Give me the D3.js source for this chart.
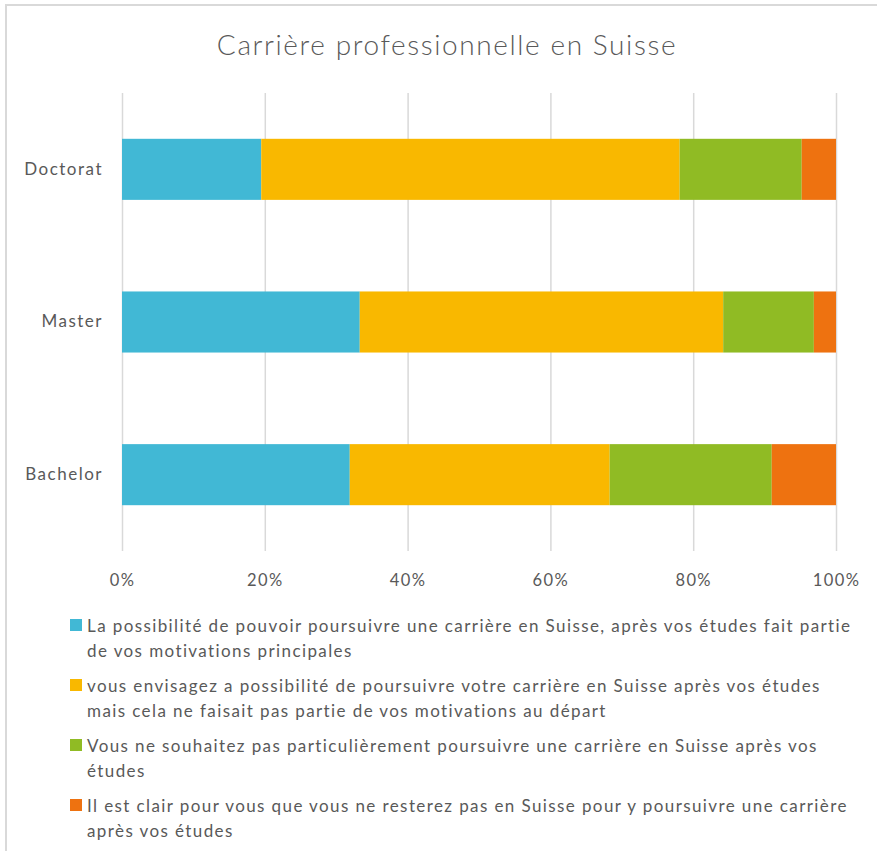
<!DOCTYPE html>
<html>
<head>
<meta charset="utf-8">
<script src="https://cdn.jsdelivr.net/npm/d3@7"></script>
<style>
  body { margin: 0; background: #fff; }
  svg { display: block; }
  text { font-family: Lato, "Open Sans", sans-serif; fill: #595959; }
</style>
</head>
<body>
<svg id="chart" width="877" height="851"></svg>
<script>
// Survey answers by degree level, in percent of respondents
const categories = ["Doctorat", "Master", "Bachelor"];
const motivationPrincipale = [19.5, 33.3, 31.9];
const envisageSansMotivation = [58.6, 50.9, 36.4];
const pasParticulierement = [17.1, 12.7, 22.7];
const neResteraPas = [4.8, 3.1, 9.0];

const seriesNames = [
  "La possibilité de pouvoir poursuivre une carrière en Suisse, après vos études fait partie de vos motivations principales",
  "vous envisagez a possibilité de poursuivre votre carrière en Suisse après vos études mais cela ne faisait pas partie de vos motivations au départ",
  "Vous ne souhaitez pas particulièrement poursuivre une carrière en Suisse après vos études",
  "Il est clair pour vous que vous ne resterez pas en Suisse pour y poursuivre une carrière après vos études"
];
const seriesColors = ["#41B8D5", "#F9B800", "#90BB24", "#EE7210"];
const tickValues = [0, 20, 40, 60, 80, 100];
const chartTitle = "Carrière professionnelle en Suisse";

const seriesValues = [motivationPrincipale, envisageSansMotivation, pasParticulierement, neResteraPas];
const rows = categories.map((c, i) => {
  const r = { category: c };
  seriesNames.forEach((s, k) => r["s" + k] = seriesValues[k][i]);
  return r;
});
const keys = seriesNames.map((s, k) => "s" + k);
const stacked = d3.stack().keys(keys)(rows);

const svg = d3.select("#chart");

// chart frame
svg.append("path")
  .attr("d", "M6,851 V5 H877")
  .attr("fill", "none")
  .attr("stroke", "#D9D9D9")
  .attr("stroke-width", 2);

// title
svg.append("text")
  .attr("x", 447)
  .attr("y", 55)
  .attr("text-anchor", "middle")
  .style("font-size", "28px")
  .style("font-weight", 300)
  .style("letter-spacing", "1.6px")
  .text(chartTitle);

const plot = { left: 122, right: 836, top: 93, bottom: 551 };
const x = d3.scaleLinear().domain([0, 100]).range([plot.left, plot.right]);
const y = d3.scaleBand().domain(categories).range([plot.top, plot.bottom])
  .paddingInner(0.6).paddingOuter(0.3);

// vertical gridlines and percent labels
const xAxis = svg.append("g")
  .attr("transform", `translate(0,${plot.bottom})`)
  .call(d3.axisBottom(x).tickValues(tickValues)
    .tickSize(-(plot.bottom - plot.top))
    .tickPadding(23)
    .tickFormat(d => d + "%"));
xAxis.select(".domain").remove();
xAxis.selectAll(".tick line").attr("stroke", "#D9D9D9").attr("stroke-width", 1.5);
xAxis.selectAll(".tick text")
  .style("font-size", "16.5px")
  .style("letter-spacing", "1.4px")
  .style("font-family", "Lato, sans-serif")
  .attr("fill", "#595959");

// category labels
const yAxis = svg.append("g")
  .attr("transform", `translate(${plot.left},0)`)
  .call(d3.axisLeft(y).tickSize(0).tickPadding(19));
yAxis.select(".domain").remove();
yAxis.selectAll(".tick text")
  .style("font-size", "17px")
  .style("letter-spacing", "1.5px")
  .style("font-family", "Lato, sans-serif")
  .attr("fill", "#595959");

// stacked bars
svg.append("g").selectAll("g")
  .data(stacked)
  .join("g")
  .attr("fill", (d, i) => seriesColors[i])
  .selectAll("rect")
  .data(d => d)
  .join("rect")
  .attr("x", d => x(d[0]))
  .attr("width", d => x(d[1]) - x(d[0]))
  .attr("y", d => y(d.data.category))
  .attr("height", y.bandwidth());

// legend with wrapped labels
const legend = svg.append("g");
const legendX = 70, textX = 87, maxWidth = 772, lineH = 24.5, itemStep = 60, firstBase = 632;
seriesNames.forEach((name, k) => {
  const base = firstBase + k * itemStep;
  legend.append("rect")
    .attr("x", legendX).attr("y", base - 13)
    .attr("width", 12).attr("height", 12)
    .attr("fill", seriesColors[k]);
  const t = legend.append("text")
    .attr("x", textX).attr("y", base)
    .style("font-size", "17px")
    .style("letter-spacing", "1.4px");
  const words = name.split(" ");
  let line = [], lineNo = 0;
  let tspan = t.append("tspan").attr("x", textX).attr("y", base);
  words.forEach(w => {
    line.push(w);
    tspan.text(line.join(" "));
    if (tspan.node().getComputedTextLength() > maxWidth && line.length > 1) {
      line.pop();
      tspan.text(line.join(" "));
      line = [w];
      lineNo++;
      tspan = t.append("tspan").attr("x", textX).attr("y", base + lineNo * lineH).text(w);
    }
  });
});
</script>
</body>
</html>
